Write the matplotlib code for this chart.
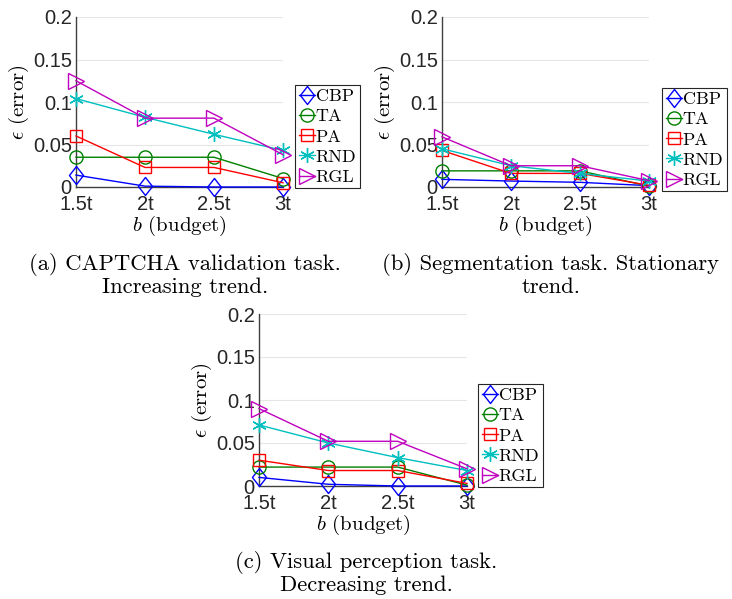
import matplotlib
matplotlib.use('Agg')
import matplotlib.pyplot as plt
from matplotlib.path import Path

plt.rcParams['mathtext.fontset'] = 'cm'
plt.rcParams['font.family'] = ['Liberation Sans', 'DejaVu Sans']

budgets = ['1.5t', '2t', '2.5t', '3t']
methods = ['CBP', 'TA', 'PA', 'RND', 'RGL']

# error values, one list per method
captcha = {
    'CBP': [0.014, 0.001, 0.0, 0.0],
    'TA': [0.035, 0.035, 0.035, 0.010],
    'PA': [0.060, 0.023, 0.023, 0.005],
    'RND': [0.104, 0.082, 0.062, 0.043],
    'RGL': [0.125, 0.081, 0.081, 0.038],
}
segmentation = {
    'CBP': [0.009, 0.007, 0.0055, 0.0016],
    'TA': [0.019, 0.019, 0.019, 0.001],
    'PA': [0.043, 0.016, 0.016, 0.002],
    'RND': [0.045, 0.025, 0.016, 0.007],
    'RGL': [0.059, 0.025, 0.025, 0.0074],
}
perception = {
    'CBP': [0.010, 0.002, 0.0, 0.0],
    'TA': [0.022, 0.022, 0.022, 0.001],
    'PA': [0.030, 0.018, 0.018, 0.003],
    'RND': [0.071, 0.050, 0.033, 0.018],
    'RGL': [0.090, 0.052, 0.052, 0.020],
}

# MATLAB-like diamond (a bit wider than matplotlib's thin diamond)
diamond = Path([(0, 1), (0.78, 0), (0, -1), (-0.78, 0), (0, 1)],
               [Path.MOVETO, Path.LINETO, Path.LINETO, Path.LINETO, Path.CLOSEPOLY])

styles = {
    'CBP': dict(color='#0000ff', marker=diamond, ms=13),
    'TA': dict(color='#008000', marker='o', ms=9.5),
    'PA': dict(color='#ff0000', marker='s', ms=8.5),
    'RND': dict(color='#00bfbf', marker=(6, 2, 0), ms=10.5),
    'RGL': dict(color='#bf00bf', marker='>', ms=12),
}

W, H = 732, 599
fig = plt.figure(figsize=(W / 100, H / 100), dpi=100)


def px_axes(left, right, top, bottom):
    return fig.add_axes([left / W, 1 - bottom / H, (right - left) / W, (bottom - top) / H])


panels = [
    (captcha, (76, 283, 17, 187), (295, 85),
     (185, 265, 287), ('(a) CAPTCHA validation task.', 'Increasing trend.')),
    (segmentation, (442, 649, 17, 187), (662, 88),
     (551, 265, 287), ('(b) Segmentation task. Stationary', 'trend.')),
    (perception, (259, 467, 314, 486), (478, 384),
     (366, 563, 585), ('(c) Visual perception task.', 'Decreasing trend.')),
]

x = list(range(len(budgets)))
for data, box, leg_xy, cap, caption in panels:
    ax = px_axes(*box)
    for m in methods:
        st = styles[m]
        ax.plot(x, data[m], color=st['color'], lw=1.0, marker=st['marker'],
                ms=st['ms'], mfc='none', mec=st['color'], mew=1.0,
                label=m, clip_on=False, zorder=3)
    ax.set_xlim(0, 3)
    ax.set_ylim(0, 0.2)
    ax.set_xticks(x)
    ax.set_xticklabels(budgets)
    ax.set_yticks([0, 0.05, 0.1, 0.15, 0.2])
    ax.set_yticklabels(['0', '0.05', '0.1', '0.15', '0.2'])
    ax.tick_params(labelsize=14.5, length=0, colors='#262626')
    ax.tick_params(axis='x', pad=5.5)
    ax.tick_params(axis='y', pad=3)
    ax.grid(axis='y', color='#e6e6e6', lw=0.8)
    ax.set_axisbelow(True)
    for s in ('top', 'right'):
        ax.spines[s].set_visible(False)
    for s in ('left', 'bottom'):
        ax.spines[s].set_color('#404040')
        ax.spines[s].set_linewidth(1.0)
    ax.set_xlabel(r'$b$ (budget)', family='cmr10', fontsize=15, labelpad=0)
    ax.set_ylabel(r'$\epsilon$ (error)', family='cmr10', fontsize=15, labelpad=1)
    leg = ax.legend(loc='upper left', bbox_to_anchor=(leg_xy[0] / W, 1 - leg_xy[1] / H),
                    bbox_transform=fig.transFigure, prop={'family': 'cmr10', 'size': 13},
                    frameon=True, fancybox=False, edgecolor='#262626', framealpha=1,
                    handlelength=0.9, handletextpad=0.05, borderpad=0.2,
                    labelspacing=0.25, borderaxespad=0)
    leg.get_frame().set_linewidth(0.8)
    cx, y1, y2 = cap
    fig.text(cx / W, 1 - y1 / H, caption[0], family='cmr10', fontsize=16.3,
             ha='center', va='center')
    fig.text(cx / W, 1 - y2 / H, caption[1], family='cmr10', fontsize=16.3,
             ha='center', va='center')

fig.savefig('out.png', dpi=100)
